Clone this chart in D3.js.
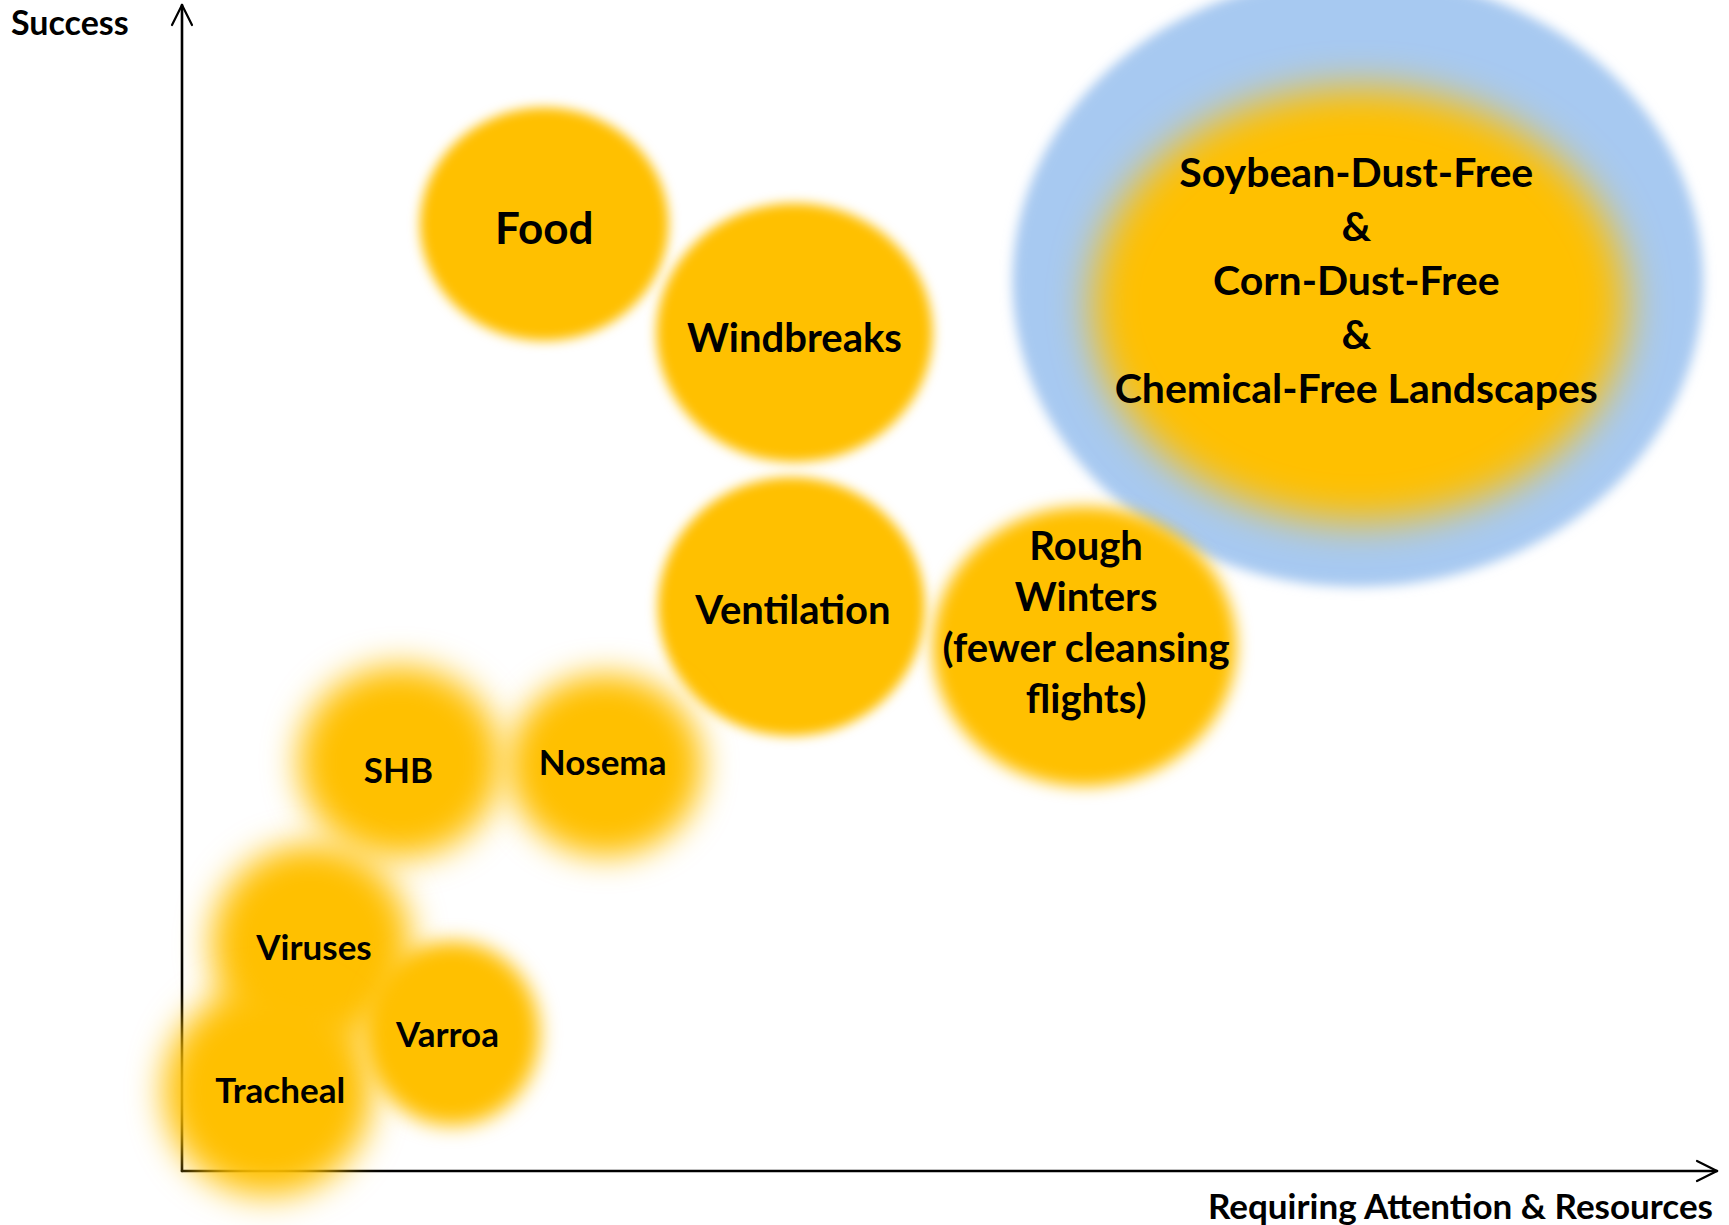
<!DOCTYPE html>
<html>
<head>
<meta charset="utf-8">
<script src="https://cdn.jsdelivr.net/npm/d3@7"></script>
<style>
  html, body { margin: 0; padding: 0; background: #ffffff; }
  svg { display: block; }
  text { font-family: Lato, "Open Sans", sans-serif; font-weight: 700; fill: #000; }
</style>
</head>
<body>
<svg id="chart" width="1729" height="1225"></svg>
<script>
// ---------------- data ----------------
const bubbleNames = ["Landscapes (outer)", "Landscapes (inner)", "Food", "Windbreaks", "Ventilation",
                     "Rough Winters", "SHB", "Nosema", "Viruses", "Tracheal", "Varroa"];
// x = requiring attention & resources, y = success (0..100 abstract units)
const bubbleX  = [76.6, 76.7, 23.6, 39.9, 39.7, 58.8, 14.2, 27.6,  8.4,  5.6, 17.6];
const bubbleY  = [76.3, 74.3, 81.2, 71.9, 48.4, 45.0, 35.1, 34.8, 19.4,  6.9, 11.8];
const bubbleRX = [22.5, 17.4,  8.1,  9.0,  8.7,  9.9,  6.6,  6.3,  6.5,  6.8,  5.7];
const bubbleRY = [26.2, 18.6, 10.0, 11.1, 11.1, 12.0,  8.2,  7.8,  8.6,  9.0,  7.9];

const labelLines = [
  ["Soybean-Dust-Free", "&", "Corn-Dust-Free", "&", "Chemical-Free Landscapes"],
  ["Food"], ["Windbreaks"], ["Ventilation"],
  ["Rough", "Winters", "(fewer cleansing", "flights)"],
  ["SHB"], ["Nosema"], ["Viruses"], ["Varroa"], ["Tracheal"]
];
const labelX = [76.5, 23.6, 39.9, 39.8, 58.9, 14.1, 27.4, 8.6, 17.3, 6.4];
const labelY = [76.5, 81.0, 71.5, 48.2, 47.1, 34.5, 35.2, 19.3, 11.8, 7.0];

const xAxisTitle = "Requiring Attention & Resources";
const yAxisTitle = "Success";

// ---------------- styles ----------------
const bubbleStyle = {
  "Landscapes (outer)": { fill: "#A7C9F1", blur: 6 },
  "Landscapes (inner)": { fill: "#FFC000", blur: 20 },
  "Food":          { fill: "#FFC000", blur: 6 },
  "Windbreaks":    { fill: "#FFC000", blur: 6 },
  "Ventilation":   { fill: "#FFC000", blur: 6 },
  "Rough Winters": { fill: "#FFC000", blur: 8 },
  "SHB":           { fill: "#FFC000", blur: 17 },
  "Nosema":        { fill: "#FFC000", blur: 16 },
  "Viruses":       { fill: "#FFC000", blur: 17 },
  "Tracheal":      { fill: "#FFC000", blur: 17 },
  "Varroa":        { fill: "#FFC000", blur: 10 }
};
const labelStyle = [
  { size: 41, lh: 54 }, { size: 44, lh: 0 }, { size: 40, lh: 0 }, { size: 40, lh: 0 },
  { size: 40, lh: 51 }, { size: 35, lh: 0 }, { size: 35, lh: 0 }, { size: 35, lh: 0 },
  { size: 35, lh: 0 }, { size: 35, lh: 0 }
];

// ---------------- chart ----------------
const svg = d3.select("#chart");
const x = d3.scaleLinear().domain([0, 100]).range([182, 1717]);
const y = d3.scaleLinear().domain([0, 100]).range([1171, 5]);
const kx = (x(1) - x(0)), ky = (y(0) - y(1));

svg.append("rect").attr("width", 1729).attr("height", 1225).attr("fill", "#fff");

// axes
const axes = svg.append("g").attr("stroke", "#000").attr("fill", "none")
  .attr("stroke-width", 2.6).attr("stroke-linecap", "round").attr("stroke-linejoin", "round");
axes.append("line").attr("x1", x(0)).attr("y1", y(0)).attr("x2", x(0)).attr("y2", y(100));
axes.append("line").attr("x1", x(0)).attr("y1", y(0)).attr("x2", x(100)).attr("y2", y(0));
axes.append("path").attr("stroke-width", 2.2)
  .attr("d", `M${x(0) - 10},${y(100) + 20}L${x(0)},${y(100)}L${x(0) + 10},${y(100) + 20}`);
axes.append("path").attr("stroke-width", 2.2)
  .attr("d", `M${x(100) - 20},${y(0) - 10}L${x(100)},${y(0)}L${x(100) - 20},${y(0) + 10}`);

// blur filters
const defs = svg.append("defs");
bubbleNames.forEach((n, i) => {
  const f = defs.append("filter").attr("id", "blur" + i)
    .attr("x", "-50%").attr("y", "-50%").attr("width", "200%").attr("height", "200%");
  f.append("feGaussianBlur").attr("stdDeviation", bubbleStyle[n].blur);
});

// bubbles
const order = d3.range(bubbleNames.length);
svg.append("g").selectAll("ellipse").data(order).join("ellipse")
  .attr("cx", i => x(bubbleX[i]))
  .attr("cy", i => y(bubbleY[i]))
  .attr("rx", i => bubbleRX[i] * kx)
  .attr("ry", i => bubbleRY[i] * ky)
  .attr("fill", i => bubbleStyle[bubbleNames[i]].fill)
  .attr("filter", i => `url(#blur${i})`);

// labels
const lg = svg.append("g").attr("text-anchor", "middle");
labelLines.forEach((lines, i) => {
  const st = labelStyle[i];
  const n = lines.length;
  lines.forEach((t, j) => {
    lg.append("text")
      .attr("x", x(labelX[i]))
      .attr("y", y(labelY[i]) + (j - (n - 1) / 2) * st.lh)
      .attr("dominant-baseline", "central")
      .attr("font-size", st.size)
      .text(t);
  });
});

// axis titles
svg.append("text").attr("x", 11).attr("y", 21).attr("dominant-baseline", "central")
  .attr("font-size", 34).text(yAxisTitle);
svg.append("text").attr("x", 1713).attr("y", 1205).attr("text-anchor", "end")
  .attr("dominant-baseline", "central").attr("font-size", 35).text(xAxisTitle);
</script>
</body>
</html>
